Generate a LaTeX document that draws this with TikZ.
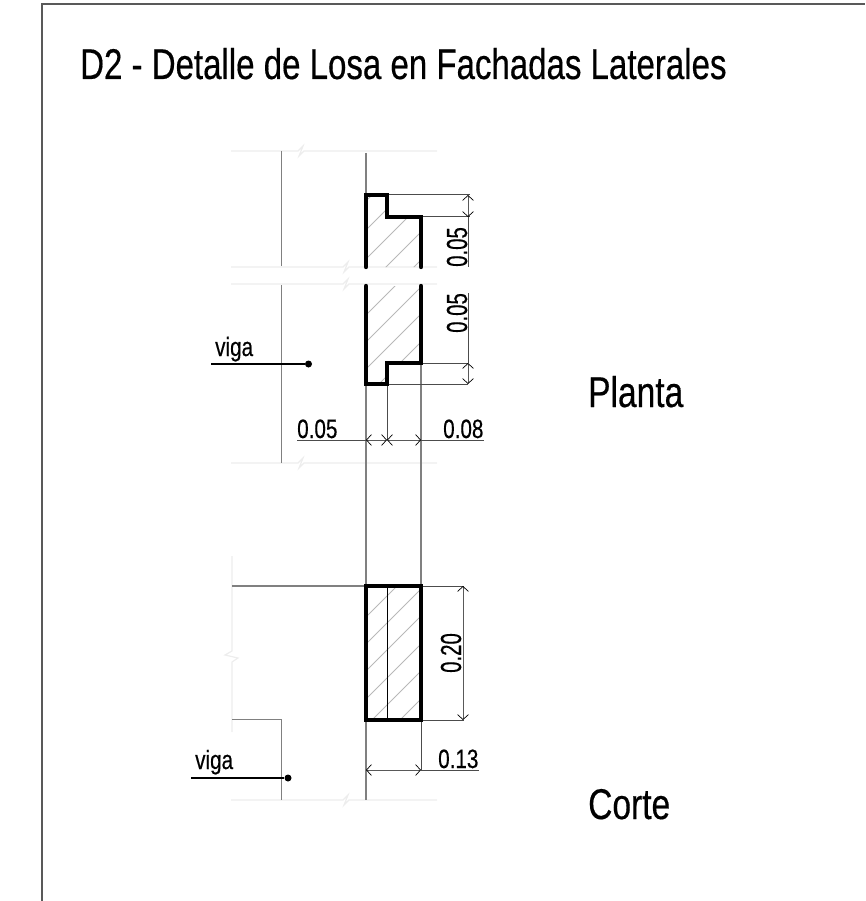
\documentclass[tikz,border=0pt]{standalone}
\usepackage{fontspec}
\setmainfont[FakeStretch=0.78,FakeBold=0.4]{Liberation Sans}
\usetikzlibrary{arrows.meta}
\tikzset{
  heavy/.style={draw=black,line width=4.4pt,line cap=round,line join=miter},
  greyline/.style={draw=black!50,line width=1.7pt},
  faint/.style={draw=black!7,line width=1.2pt},
  hatchline/.style={draw=black!28,line width=0.8pt},
  thinline/.style={draw=black!70,line width=1pt},
  dimline/.style={draw=black!65,line width=1pt,{Straight Barb[length=5pt,width=11pt,line width=0.7pt,black]}-{Straight Barb[length=5pt,width=11pt,line width=0.7pt,black]}},
  leader/.style={draw=black,line width=1.1pt},
  dot/.style={circle,fill=black,inner sep=0pt,minimum size=7pt},
  smalltxt/.style={inner sep=0pt,font=\fontsize{26.5}{26.5}\selectfont,text=black},
  rottxt/.style={inner sep=0pt,font=\fontsize{29}{29}\selectfont,text=black,anchor=base west,rotate=90},
  bigtxt/.style={inner sep=0pt,font=\fontsize{43}{43}\selectfont,text=black},
  frameline/.style={draw=black!65,line width=1.4pt}
}
\newcommand{\breakH}[3]{% y, x of break, x end
  \draw[faint] (231,#1) -- (#2-4,#1) -- (#2+1,#1-5) -- (#2-3,#1+5) -- (#2+2,#1) -- (#3,#1);}
\begin{document}
\begin{tikzpicture}[x=1pt,y=-1pt]
\useasboundingbox (0,0) rectangle (865,901);
% frame
\draw[frameline] (42,901) -- (42,4) -- (865,4);
% title
\node[bigtxt,anchor=base west] (title) at (80,79) {\scalebox{.985}[1]{D2 - Detalle de Losa en Fachadas Laterales}};
% faint break lines
\breakH{151}{302}{437}
\breakH{267}{347}{437}
\breakH{284}{347}{437}
\breakH{463}{302}{437}
\breakH{800}{347}{437}
\draw[faint] (232,556) -- (232,651) -- (225,655) -- (238,658) -- (232,662) -- (232,732);
% hatching
\begin{scope}
\clip (366,195) -- (387,195) -- (387,217) -- (421,217) -- (421,267) -- (366,267) -- cycle;
\foreach \c in {567,596,625,653,681} \draw[hatchline] (366,\c-366) -- (421,\c-421);
\end{scope}
\begin{scope}
\clip (366,286) -- (421,286) -- (421,363) -- (387,363) -- (387,384) -- (366,384) -- cycle;
\foreach \c in {681,708,735,763} \draw[hatchline] (366,\c-366) -- (421,\c-421);
\end{scope}
\begin{scope}
\clip (366,586) rectangle (421,720);
\foreach \c in {983,1010,1037,1065,1092,1120} \draw[hatchline] (366,\c-366) -- (421,\c-421);
\end{scope}
% grey walls
\draw[greyline] (281.5,151) -- (281.5,266);
\draw[greyline] (281.5,285) -- (281.5,463);
\draw[greyline] (366,153) -- (366,195);
\draw[greyline] (366,384) -- (366,586);
\draw[greyline] (421,363) -- (421,586);
\draw[greyline] (232,586) -- (366,586);
\draw[greyline] (232,719.5) -- (281.5,719.5) -- (281.5,800);
\draw[greyline] (366,720) -- (366,800);
% extension lines
\draw[thinline] (387,195) -- (470,195);
\draw[thinline] (421,217) -- (470,217);
\draw[thinline] (421,363) -- (468,363);
\draw[thinline] (387,384) -- (468,384);
\draw[thinline] (387,384) -- (387,440);
\draw[thinline] (421,586) -- (464,586);
\draw[thinline] (421,720) -- (464,720);
\draw[thinline] (421,720) -- (421,770);
\draw[thinline] (468,217) -- (468,267);
\draw[thinline] (468,293) -- (468,363);
% inner section line
\draw[thinline,draw=black] (387,586) -- (387,720);
% heavy profiles
\draw[heavy] (366,267) -- (366,195) -- (387,195) -- (387,217) -- (421,217) -- (421,267);
\draw[heavy] (366,286) -- (366,384) -- (387,384) -- (387,363) -- (421,363) -- (421,286);
\draw[heavy,line cap=butt] (366,586) rectangle (421,720);
% dimensions
\draw[dimline] (468,195) -- (468,217);
\draw[dimline] (468,363) -- (468,384);
\draw[thinline] (297,440) -- (366,440);
\draw[thinline] (421,440) -- (484,440);
\draw[dimline] (366,440) -- (387,440);
\draw[dimline] (387,440) -- (421,440);
\draw[dimline] (463,586) -- (463,720);
\draw[dimline] (366,770) -- (421,770);
\draw[thinline] (421,770) -- (479,770);
% dimension text
\node[rottxt] (d1) at (467,267) {\scalebox{.9}[1]{0.05}};
\node[rottxt] (d2) at (467,333) {\scalebox{.9}[1]{0.05}};
\node[rottxt] (d3) at (461,673) {\scalebox{.9}[1]{0.20}};
\node[smalltxt,anchor=base west] (d4) at (297,438) {0.05};
\node[smalltxt,anchor=base west] (d5) at (443,438) {0.08};
\node[smalltxt,anchor=base west] (d6) at (438,768) {0.13};
% viga leaders
\node[smalltxt,anchor=base west] (v1) at (215,356) {viga};
\node[dot] (p1) at (308.5,364) {};
\coordinate (l1) at (211,364);
\draw[leader] (l1) -- (p1);
\node[smalltxt,anchor=base west] (v2) at (195,769) {viga};
\node[dot] (p2) at (288,778) {};
\coordinate (l2) at (191,778);
\draw[leader] (l2) -- (p2);
% labels
\node[bigtxt,anchor=base west] (planta) at (588,407) {Planta};
\node[bigtxt,anchor=base west] (corte) at (588,819) {Corte};
\end{tikzpicture}
\end{document}
